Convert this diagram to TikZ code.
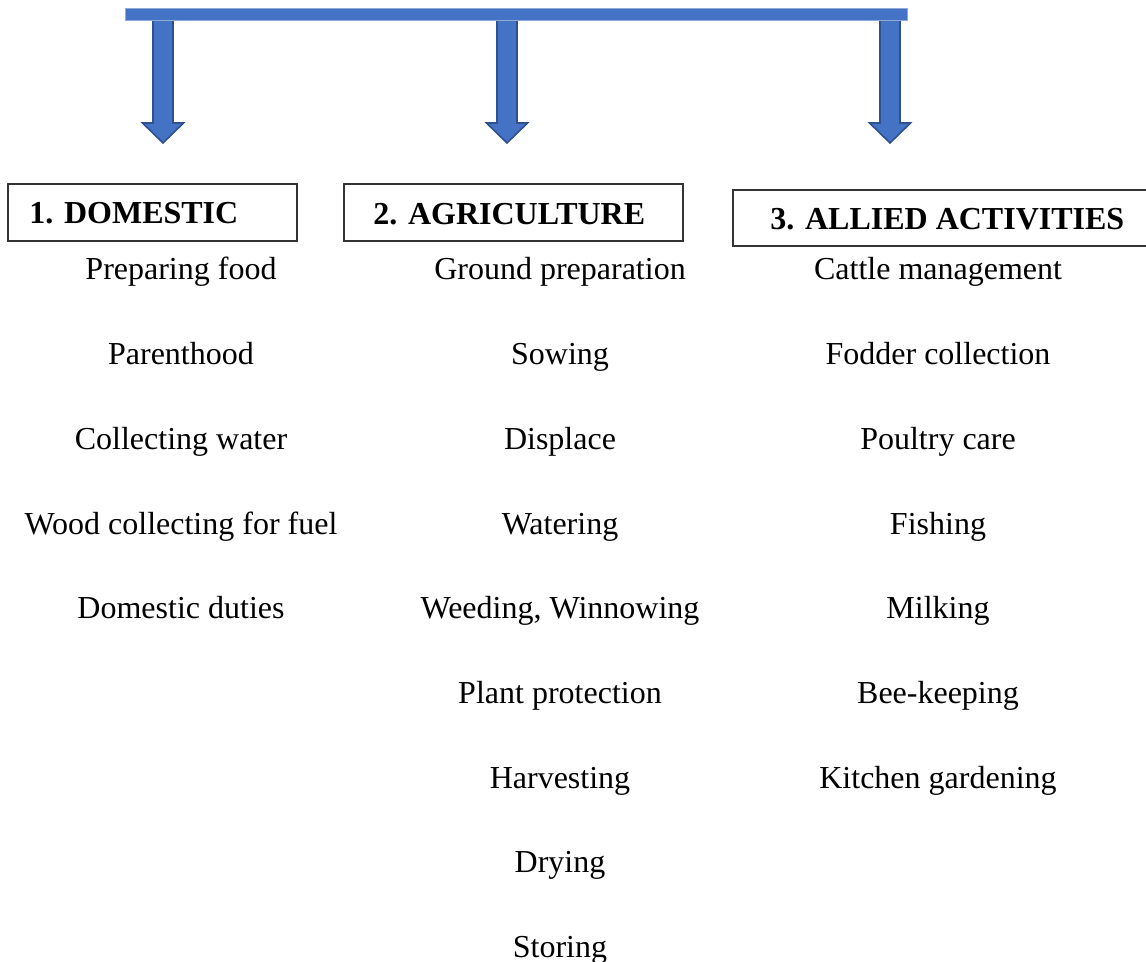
\documentclass[tikz,border=0pt]{standalone}
\usepackage{fontspec}
\setmainfont{Liberation Serif}
\usetikzlibrary{positioning}

\definecolor{arrowblue}{RGB}{68,114,196}
\definecolor{arrowedge}{RGB}{47,82,143}
\definecolor{baredge}{RGB}{143,170,220}

\begin{document}
\begin{tikzpicture}[
    x=0.5pt, y=-0.5pt,
    font=\fontsize{16}{19}\selectfont,
    bar/.style={fill=arrowblue, draw=baredge, line width=0.4pt},
    blockarrow/.style={fill=arrowblue, draw=arrowedge, line width=0.8pt, line join=miter},
    headbox/.style={draw=black!80, line width=0.6pt, inner sep=0pt},
    head/.style={anchor=base west, inner sep=0pt, font=\fontsize{16}{19}\selectfont\bfseries},
    item/.style={anchor=base, inner sep=0pt}
]
\useasboundingbox (0,0) rectangle (1146,962);
\clip (0,0) rectangle (1146,962);

% arrows under the bar
\foreach \cx/\nm in {163/one, 507/two, 890/three} {
    \draw[blockarrow] (\cx-10,20) -- (\cx-10,123) -- (\cx-20.5,123) -- (\cx,143)
        -- (\cx+20.5,123) -- (\cx+10,123) -- (\cx+10,20) -- cycle;
    \coordinate (tip\nm) at (\cx,143);
}
\draw[bar] (125,8) rectangle (907,20);

% heading boxes
\draw[headbox] (8,184) rectangle (297,241);
\draw[headbox] (344,184) rectangle (683,241);
\draw[headbox] (733,190) rectangle (1160,246);
\node[head] (domestic) at (29,224) {1. DOMESTIC};
\node[head] (agri) at (373,225) {2. AGRICULTURE};
\node[head] (allied) at (770,230) {3. ALLIED ACTIVITIES};

% activity lists
\foreach \t [count=\i from 0] in {Preparing food, Parenthood, Collecting water,
    Wood collecting for fuel, Domestic duties}
    \node[item] (dom\i) at (181,280+84.7*\i) {\t};
\foreach \t [count=\i from 0] in {Ground preparation, Sowing, Displace, Watering,
    {Weeding, Winnowing}, Plant protection, Harvesting, Drying, Storing}
    \node[item] (agr\i) at (560,280+84.7*\i) {\t};
\foreach \t [count=\i from 0] in {Cattle management, Fodder collection, Poultry care,
    Fishing, Milking, Bee-keeping, Kitchen gardening}
    \node[item] (all\i) at (938,280+84.7*\i) {\t};
\end{tikzpicture}
\end{document}
